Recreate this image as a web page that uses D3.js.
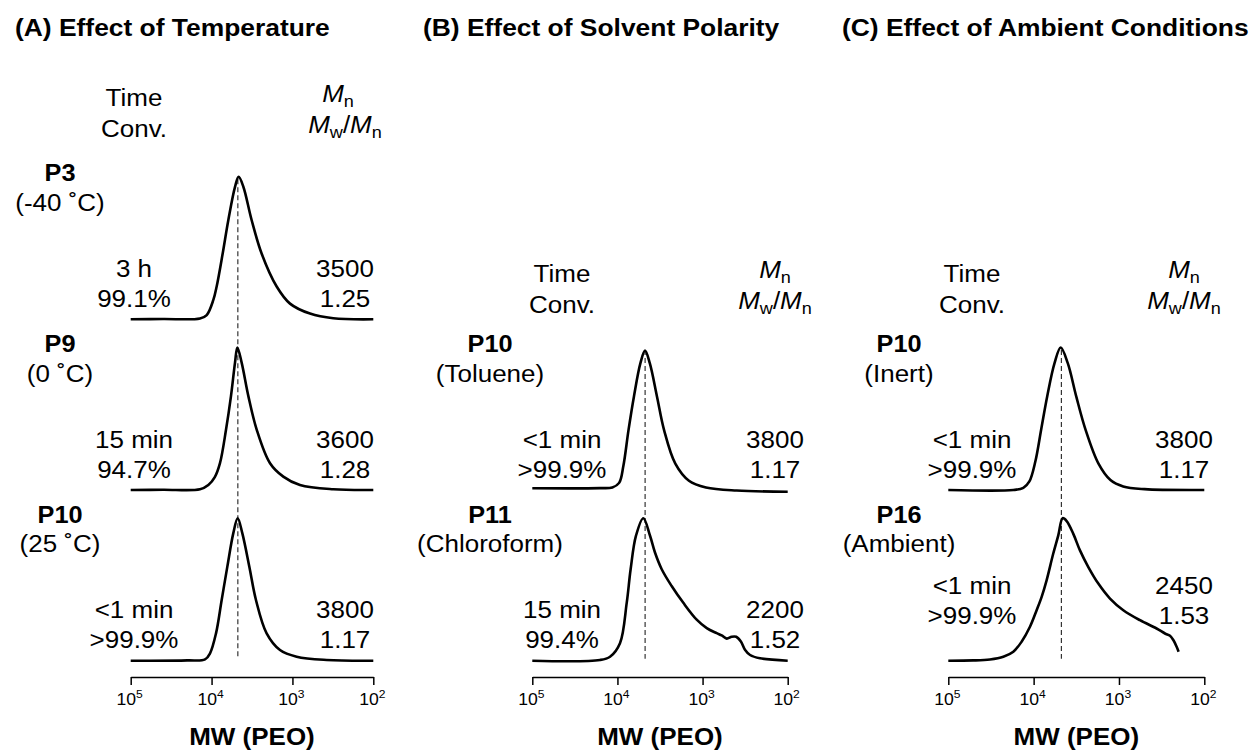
<!DOCTYPE html>
<html>
<head>
<meta charset="utf-8">
<script src="https://cdn.jsdelivr.net/npm/d3@7"></script>
<style>
  body { margin: 0; background: #fff; }
  svg text { font-family: "Liberation Sans", Arial, Helvetica, sans-serif; fill: #000; }
</style>
</head>
<body>
<div id="chart"></div>
<script>
// GPC traces: [log10(MW), normalised signal]
const p3Temp = [[5.0,0],[4.6,0.002],[4.143,0.006],[4.06,0.03],[3.978,0.136],[3.937,0.23],[3.863,0.46],[3.793,0.695],[3.71,0.93],[3.665,1.0],[3.607,0.93],[3.504,0.695],[3.38,0.46],[3.195,0.23],[3.03,0.11],[2.783,0.04],[2.495,0.007],[2.0,0]];
const p9Temp = [[5.0,0],[4.6,0.002],[4.143,0.005],[4.04,0.035],[3.96,0.09],[3.896,0.188],[3.821,0.424],[3.76,0.659],[3.71,0.894],[3.681,1.0],[3.628,0.894],[3.545,0.659],[3.442,0.424],[3.277,0.188],[3.113,0.094],[2.907,0.035],[2.495,0.005],[2.0,0]];
const p10Temp = [[5.0,0],[4.3,0.002],[4.081,0.009],[4.019,0.052],[3.945,0.192],[3.875,0.426],[3.805,0.66],[3.731,0.895],[3.677,1.0],[3.62,0.895],[3.533,0.66],[3.451,0.426],[3.319,0.192],[3.154,0.075],[2.948,0.028],[2.577,0.005],[2.0,0]];
const p10Toluene = [[5.0,0.012],[4.205,0.013],[4.06,0.018],[3.98,0.05],[3.93,0.17],[3.87,0.42],[3.805,0.66],[3.73,0.89],[3.676,0.978],[3.62,0.89],[3.535,0.655],[3.452,0.42],[3.32,0.185],[3.16,0.065],[2.96,0.018],[2.6,-0.004],[2.0,-0.012]];
const p11Chloroform = [[5.0,0],[4.205,0.005],[4.087,0.028],[3.97,0.123],[3.891,0.406],[3.845,0.642],[3.782,0.877],[3.696,1.0],[3.617,0.877],[3.559,0.759],[3.48,0.642],[3.363,0.524],[3.226,0.406],[3.069,0.288],[2.951,0.229],[2.834,0.193],[2.775,0.177],[2.716,0.155],[2.658,0.168],[2.605,0.168],[2.55,0.135],[2.5,0.075],[2.442,0.04],[2.325,0.017],[2.0,0]];
const p10Inert = [[5.0,0],[4.238,0.0],[4.121,0.015],[4.05,0.06],[3.98,0.2],[3.91,0.43],[3.84,0.66],[3.755,0.89],[3.683,1.0],[3.6,0.89],[3.5,0.655],[3.39,0.42],[3.24,0.185],[3.1,0.07],[2.95,0.025],[2.7,0.006],[2.0,0]];
const p16Ambient = [[5.0,0],[4.707,0.002],[4.512,0.009],[4.355,0.028],[4.238,0.063],[4.141,0.133],[4.043,0.238],[3.965,0.354],[3.906,0.448],[3.848,0.564],[3.77,0.752],[3.711,0.88],[3.66,1.0],[3.613,0.98],[3.535,0.89],[3.457,0.774],[3.359,0.657],[3.242,0.541],[3.105,0.436],[2.949,0.354],[2.754,0.284],[2.559,0.226],[2.461,0.191],[2.402,0.175],[2.363,0.145],[2.324,0.098],[2.301,0.063]];

const panelTitles = ["(A) Effect of Temperature", "(B) Effect of Solvent Polarity", "(C) Effect of Ambient Conditions"];
const sampleNames = [["P3", "P9", "P10"], ["P10", "P11"], ["P10", "P16"]];
const conditions = [["(-40 ˚C)", "(0 ˚C)", "(25 ˚C)"], ["(Toluene)", "(Chloroform)"], ["(Inert)", "(Ambient)"]];
const times = [["3 h", "15 min", "<1 min"], ["<1 min", "15 min"], ["<1 min", "<1 min"]];
const conversions = [["99.1%", "94.7%", ">99.9%"], [">99.9%", "99.4%"], [">99.9%", ">99.9%"]];
const mnValues = [["3500", "3600", "3800"], ["3800", "2200"], ["3800", "2450"]];
const dispersities = [["1.25", "1.28", "1.17"], ["1.17", "1.52"], ["1.17", "1.53"]];
const traces = [[p3Temp, p9Temp, p10Temp], [p10Toluene, p11Chloroform], [p10Inert, p16Ambient]];
const tickExponents = [5, 4, 3, 2];
const refLogMW = 3.675; // dashed line through the P10 peak
const xTitle = "MW (PEO)";

// layout of the three panels
const panels = [
    { x0: 130.7, x1: 373.3, titleX: 15, nameX: 60, leftX: 134, rightX: 345, mnX: 338, firstRow: 0, headerY: 106 },
    { x0: 532.3, x1: 787.7, titleX: 423, nameX: 490, leftX: 562, rightX: 775, mnX: 775, firstRow: 1, headerY: 282 },
    { x0: 948.3, x1: 1204.3, titleX: 842, nameX: 899, leftX: 972, rightX: 1184, mnX: 1184, firstRow: 1, headerY: 282 }
];
const rowBase = r => 319.3 + r * 170.7;
const peakHeight = 142.5;
const axisY = 677;

const svg = d3.select("#chart")
    .append("svg")
    .attr("width", 1252)
    .attr("height", 753);

function label(g, x, y, txt, o = {}) {
    const t = g.append("text")
        .attr("transform", `translate(${x},${y}) scale(${o.sx || 1.13},1)`)
        .attr("text-anchor", o.anchor || "middle")
        .style("font-size", (o.size || 23) + "px")
        .style("font-weight", o.bold ? "bold" : null);
    if (txt != null) t.text(txt);
    return t;
}

panels.forEach((p, pi) => {
    const g = svg.append("g");
    const xScale = d3.scaleLog().domain([1e5, 1e2]).range([p.x0, p.x1]);

    // panel title
    label(g, p.titleX, 36, panelTitles[pi], { anchor: "start", bold: true, size: 24, sx: 1.1 });

    // column headers
    label(g, p.leftX, p.headerY, "Time");
    label(g, p.leftX, p.headerY + 31, "Conv.");
    const mn = label(g, p.mnX, p.headerY - 4, null);
    mn.append("tspan").style("font-style", "italic").text("M");
    mn.append("tspan").attr("dy", 5).style("font-size", "16px").text("n");
    const mw = label(g, p.rightX, p.headerY + 27, null);
    mw.append("tspan").style("font-style", "italic").text("M");
    mw.append("tspan").attr("dy", 5).style("font-size", "16px").text("w");
    mw.append("tspan").attr("dy", -5).text("/");
    mw.append("tspan").style("font-style", "italic").text("M");
    mw.append("tspan").attr("dy", 5).style("font-size", "16px").text("n");

    // dashed reference line
    g.append("line")
        .attr("x1", xScale(Math.pow(10, refLogMW)))
        .attr("x2", xScale(Math.pow(10, refLogMW)))
        .attr("y1", rowBase(p.firstRow) - 140)
        .attr("y2", rowBase(2) - 2)
        .attr("stroke", "#222")
        .attr("stroke-width", 1.1)
        .attr("stroke-dasharray", "5,3");

    traces[pi].forEach((data, i) => {
        const row = p.firstRow + i;
        const base = rowBase(row);
        const yScale = d3.scaleLinear().domain([0, 1]).range([base, base - peakHeight]);
        const line = d3.line()
            .x(d => xScale(Math.pow(10, d[0])))
            .y(d => yScale(d[1]))
            .curve(d3.curveCatmullRom.alpha(0.5));
        g.append("path")
            .datum(data)
            .attr("d", line)
            .attr("fill", "none")
            .attr("stroke", "#000")
            .attr("stroke-width", 2.6)
            .attr("stroke-linejoin", "round");

        // labels for the trace
        const lift = (pi === 2 && i === 1) ? 24 : 0; // P16 text sits higher
        label(g, p.nameX, base - 138, sampleNames[pi][i], { bold: true, sx: 1.1 });
        label(g, p.nameX, base - 108.5, conditions[pi][i]);
        label(g, p.leftX, base - 42.5 - lift, times[pi][i]);
        label(g, p.leftX, base - 12.5 - lift, conversions[pi][i]);
        label(g, p.rightX, base - 42.5 - lift, mnValues[pi][i]);
        label(g, p.rightX, base - 12.5 - lift, dispersities[pi][i]);
    });

    // x axis
    const axis = g.append("g")
        .attr("transform", `translate(0,${axisY})`)
        .call(d3.axisBottom(xScale)
            .tickValues(tickExponents.map(e => Math.pow(10, e)))
            .tickSize(8)
            .tickSizeOuter(0)
            .tickFormat(""));
    axis.select(".domain").attr("stroke", "#000").attr("stroke-width", 1.5);
    axis.selectAll(".tick line").attr("stroke", "#000").attr("stroke-width", 1.5);

    tickExponents.forEach(e => {
        const t = label(g, xScale(Math.pow(10, e)) - 1, axisY + 28, null, { size: 16, sx: 1.1 });
        t.append("tspan").text("10");
        t.append("tspan").attr("dy", -7).style("font-size", "11px").text(e);
    });

    label(g, (p.x0 + p.x1) / 2, 745, xTitle, { bold: true, size: 23, sx: 1.13 });
});
</script>
</body>
</html>
